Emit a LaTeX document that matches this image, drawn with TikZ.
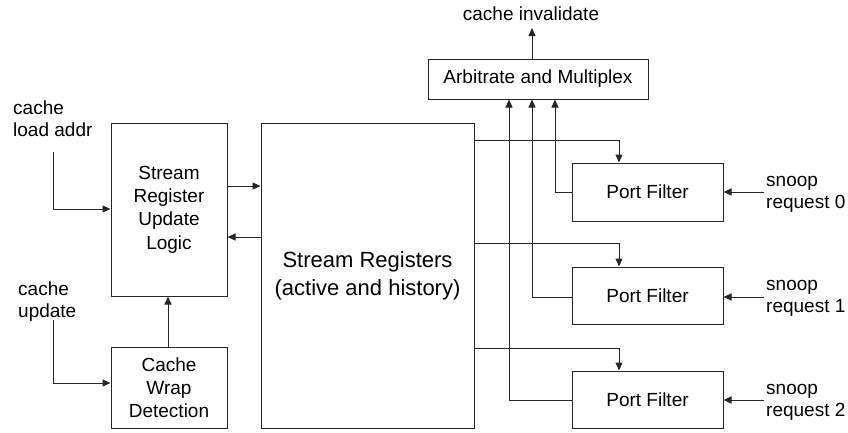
\documentclass[tikz,border=0pt]{standalone}
\usepackage{fontspec}
\setmainfont{Liberation Sans}
\usetikzlibrary{arrows.meta}
\begin{document}
\begin{tikzpicture}[x=1pt,y=-1pt,
  box/.style={draw=black!85,line width=1pt,inner sep=0pt,align=center,
    font=\fontsize{19}{23.3}\selectfont},
  lbl/.style={inner sep=0pt,align=left,font=\fontsize{19}{22}\selectfont},
  conn/.style={draw=black!85,line width=1pt},
  arr/.style={conn,-{Triangle[length=8pt,width=7pt]}}]
\useasboundingbox (0,0) rectangle (848,432);
% boxes
\node[box,minimum width=116,minimum height=173] (srul) at (169,209.5)
  {Stream\\Register\\Update\\Logic};
\node[box,minimum width=116,minimum height=81] (cwd) at (169,387.5)
  {Cache\\Wrap\\Detection};
\node[box,minimum width=213,minimum height=305,
  font=\fontsize{22}{28}\selectfont] (sr) at (367.5,275.5)
  {Stream Registers\\(active and history)};
\node[box,minimum width=220,minimum height=40] (arb) at (538,79)
  {Arbitrate and Multiplex};
\node[box,minimum width=151,minimum height=58] (pf0) at (647.5,192) {Port Filter};
\node[box,minimum width=151,minimum height=57] (pf1) at (647.5,295.5) {Port Filter};
\node[box,minimum width=151,minimum height=57] (pf2) at (647.5,399.5) {Port Filter};
% labels
\node[lbl,anchor=west] (lla) at (13,119) {cache\\load addr};
\node[lbl,anchor=west] (lcu) at (18,302) {cache\\update};
\node[lbl] (lci) at (531,14) {cache invalidate};
\node[lbl,anchor=west] (ls0) at (766,194) {snoop\\request 0};
\node[lbl,anchor=west] (ls1) at (766,298) {snoop\\request 1};
\node[lbl,anchor=west] (ls2) at (766,402) {snoop\\request 2};
% free-end coordinates
\coordinate (a0) at (53,152);
\coordinate (a1) at (53,320);
\coordinate (ci) at (532,28);
\coordinate (s0) at (764,192);
\coordinate (s1) at (764,297);
\coordinate (s2) at (764,400);
% connectors
\draw[arr] (a0) |- (srul.west |- 0,209);
\draw[arr] (a1) |- (cwd.west |- 0,383);
\draw[arr] (cwd.north -| 168,0) -- (srul.south -| 168,0);
\draw[arr] (srul.east |- 0,186) -- (sr.west |- 0,186);
\draw[arr] (sr.west |- 0,237) -- (srul.east |- 0,237);
\draw[arr] (arb.north -| 532,0) -- (ci);
\draw[arr] (pf0.west |- 0,192) -| (arb.south -| 555,0);
\draw[arr] (pf1.west |- 0,297) -| (arb.south -| 532,0);
\draw[arr] (pf2.west |- 0,400) -| (arb.south -| 509,0);
\draw[arr] (sr.east |- 0,140) -| (pf0.north -| 619,0);
\draw[arr] (sr.east |- 0,243) -| (pf1.north -| 619,0);
\draw[arr] (sr.east |- 0,348) -| (pf2.north -| 619,0);
\draw[arr] (s0) -- (pf0.east |- s0);
\draw[arr] (s1) -- (pf1.east |- s1);
\draw[arr] (s2) -- (pf2.east |- s2);
\end{tikzpicture}
\end{document}
